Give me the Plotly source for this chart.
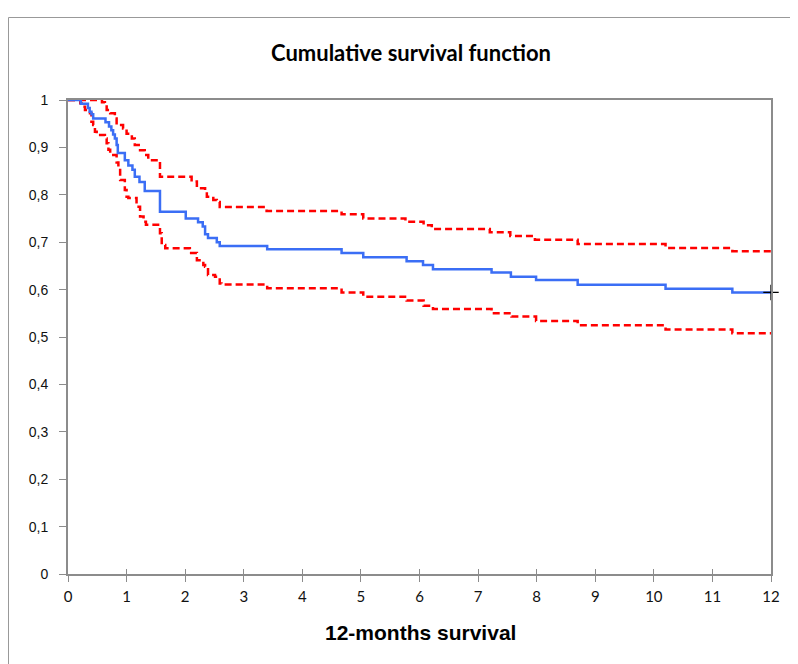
import plotly.graph_objects as go

# Kaplan-Meier estimate (months, survival)
t_km = [0, 0.22, 0.34, 0.37, 0.40, 0.43, 0.64, 0.70, 0.74, 0.77, 0.80, 0.83, 0.85, 0.97, 1.03, 1.10, 1.14, 1.22, 1.31, 1.57,
        2.01, 2.22, 2.30, 2.34, 2.39, 2.54, 2.59, 3.40, 4.67, 5.04, 5.78, 6.06, 6.23, 7.23, 7.56, 7.99, 8.70, 10.20, 11.34, 12.0]
s_km = [1.0, 0.992, 0.983, 0.975, 0.970, 0.961, 0.953, 0.944, 0.936, 0.927, 0.919, 0.905, 0.888, 0.873, 0.862, 0.853, 0.838, 0.827, 0.808, 0.764,
        0.750, 0.742, 0.733, 0.717, 0.709, 0.700, 0.692, 0.685, 0.677, 0.668, 0.660, 0.652, 0.643, 0.636, 0.627, 0.620, 0.610, 0.602, 0.594, 0.594]

# Upper confidence limit
t_up = [0, 0.58, 0.63, 0.66, 0.72, 0.80, 0.83, 0.94, 1.00, 1.09, 1.14, 1.23, 1.31, 1.37, 1.57, 2.11, 2.20, 2.34, 2.37, 2.48,
        2.54, 2.59, 3.39, 4.67, 5.04, 5.76, 6.07, 6.21, 7.20, 7.55, 7.97, 8.70, 10.20, 11.34, 12.0]
s_up = [1.0, 0.995, 0.989, 0.979, 0.972, 0.961, 0.947, 0.940, 0.929, 0.919, 0.905, 0.894, 0.884, 0.873, 0.838, 0.828, 0.814, 0.808, 0.796, 0.789,
        0.785, 0.774, 0.766, 0.759, 0.750, 0.743, 0.736, 0.728, 0.721, 0.713, 0.705, 0.696, 0.688, 0.681, 0.681]

# Lower confidence limit
t_lo = [0, 0.21, 0.26, 0.29, 0.375, 0.40, 0.43, 0.46, 0.49, 0.63, 0.66, 0.69, 0.72, 0.83, 0.86, 0.89, 0.97, 1.00, 1.03, 1.17,
        1.23, 1.29, 1.33, 1.57, 1.60, 1.66, 2.08, 2.20, 2.31, 2.34, 2.39, 2.51, 2.59, 2.62, 3.40, 4.67, 5.04, 5.78, 6.07, 6.23,
        7.23, 7.57, 7.99, 8.70, 10.20, 11.34, 12.0]
s_lo = [1.0, 0.993, 0.986, 0.979, 0.972, 0.954, 0.947, 0.933, 0.926, 0.919, 0.909, 0.895, 0.884, 0.868, 0.856, 0.831, 0.810, 0.796, 0.793, 0.775,
        0.754, 0.743, 0.737, 0.719, 0.694, 0.687, 0.677, 0.662, 0.652, 0.648, 0.631, 0.627, 0.613, 0.611, 0.603, 0.594, 0.585, 0.577, 0.566, 0.559,
        0.550, 0.543, 0.534, 0.525, 0.516, 0.508, 0.508]

# Censored observation
t_cens = [12.0]
s_cens = [0.594]

x_ticks = list(range(0, 13))
x_ticktext = [str(v) for v in x_ticks]
y_ticks = [0, 0.1, 0.2, 0.3, 0.4, 0.5, 0.6, 0.7, 0.8, 0.9, 1.0]
y_ticktext = ["0", "0,1", "0,2", "0,3", "0,4", "0,5", "0,6", "0,7", "0,8", "0,9", "1"]

title_text = "Cumulative survival function"
xlabel_text = "12-months survival"

RED = "#ff0000"
BLUE = "#3b6ef5"
GRAY = "#8c8c8c"

OFF = 8  # page body margin
L, T, PW, PH = 68 - OFF, 100 - OFF, 703, 474
W, H = 798, 664

fig = go.Figure()
fig.add_trace(go.Scatter(x=t_up, y=s_up, mode="lines", line=dict(color=RED, width=2.5, dash="7px,4px", shape="hv"),
                         cliponaxis=False, hoverinfo="skip"))
fig.add_trace(go.Scatter(x=t_lo, y=s_lo, mode="lines", line=dict(color=RED, width=2.5, dash="7px,4px", shape="hv"),
                         cliponaxis=False, hoverinfo="skip"))
fig.add_trace(go.Scatter(x=t_km, y=s_km, mode="lines", line=dict(color=BLUE, width=2.5, shape="hv"),
                         cliponaxis=False))
fig.add_trace(go.Scatter(x=t_cens, y=s_cens, mode="markers",
                         marker=dict(symbol="cross-thin", size=11, line=dict(color="black", width=1.3)),
                         cliponaxis=False))
# overlay axis for the inward half of the x ticks
fig.add_trace(go.Scatter(x=[0, 12], y=[0, 0], xaxis="x2", mode="lines", line=dict(width=0), hoverinfo="skip",
                         showlegend=False, opacity=0))

fig.update_layout(
    width=W, height=H,
    margin=dict(l=L, r=W - L - PW, t=T, b=H - T - PH),
    paper_bgcolor="white", plot_bgcolor="white",
    showlegend=False,
    font=dict(family="Liberation Sans, Arial, sans-serif", color="#111111"),
    title=dict(text="<b>" + title_text + "</b>", x=(411 - OFF) / W, xanchor="center", xref="container",
               y=1 - (53 - OFF) / H, yanchor="middle", yref="container",
               font=dict(family="Lato, sans-serif", size=22, color="black")),
    xaxis=dict(range=[0, 12], tickvals=x_ticks, ticktext=x_ticktext, showgrid=False, zeroline=False,
               showline=True, linecolor=GRAY, linewidth=2, mirror=True,
               ticks="outside", ticklen=6, tickcolor=GRAY, tickwidth=1,
               ticklabelstandoff=2,
               tickfont=dict(family="Lato, sans-serif", size=15, color="#111111")),
    xaxis2=dict(range=[0, 12], overlaying="x", side="bottom", anchor="y", tickvals=x_ticks,
                showticklabels=False, showgrid=False, zeroline=False, showline=False,
                ticks="inside", ticklen=5, tickcolor=GRAY, tickwidth=1),
    yaxis=dict(range=[0, 1], tickvals=y_ticks, ticktext=y_ticktext, showgrid=False, zeroline=False,
               showline=True, linecolor=GRAY, linewidth=2, mirror=True,
               ticks="outside", ticklen=7, tickcolor=GRAY, tickwidth=1,
               ticklabelstandoff=8,
               tickfont=dict(family="Liberation Sans, Arial, sans-serif", size=14, color="#111111")),
    annotations=[dict(text="<b>" + xlabel_text + "</b>", x=(420 - 68) / PW, xref="paper", y=(574 - 632) / PH, yref="paper",
                      xanchor="center", yanchor="middle", showarrow=False,
                      font=dict(family="Liberation Sans, Arial, sans-serif", size=21, color="black"))],
    shapes=[dict(type="rect", xref="paper", yref="paper",
                 x0=(8.5 - 68) / PW, x1=(810 - 68) / PW,
                 y0=(574 - 690) / PH, y1=(574 - 17.5) / PH,
                 line=dict(color="#999999", width=1), fillcolor="rgba(0,0,0,0)", layer="below")],
)

fig.write_html("out.html")
